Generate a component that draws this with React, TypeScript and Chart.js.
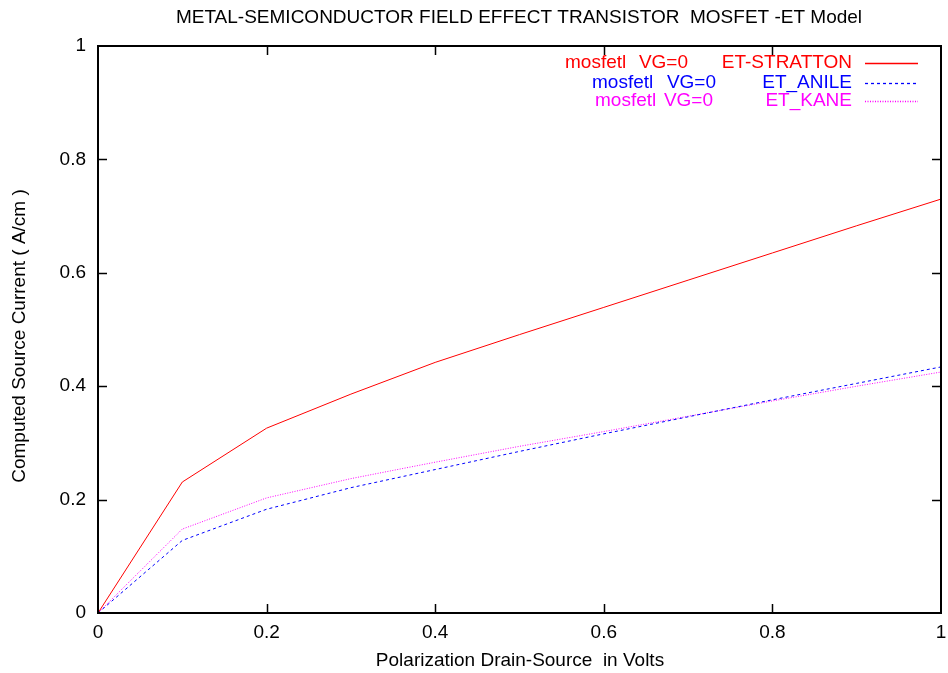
import React, { useEffect, useRef } from "react";
import { Chart, registerables } from "chart.js";

Chart.register(...registerables);

const xValues = [0, 0.1, 0.2, 0.3, 0.4, 0.5, 0.6, 0.7, 0.8, 0.9, 1.0];
const stratton = [0, 0.231, 0.326, 0.386, 0.442, 0.491, 0.539, 0.587, 0.635, 0.683, 0.730];
const anile = [0, 0.128, 0.183, 0.221, 0.253, 0.285, 0.316, 0.346, 0.376, 0.405, 0.434];
const kane = [0, 0.148, 0.203, 0.237, 0.266, 0.294, 0.320, 0.347, 0.374, 0.400, 0.425];
const tickValues = [0, 0.2, 0.4, 0.6, 0.8, 1];

const titleText = "METAL-SEMICONDUCTOR FIELD EFFECT TRANSISTOR  MOSFET -ET Model";
const xTitle = "Polarization Drain-Source  in Volts";
const yTitle = "Computed Source Current ( A/cm )";

const legendRows = [
  { left: "mosfetl", mid: "VG=0", key: "ET-STRATTON", color: "#ff0000", dash: [] as number[], lx: 565, mx: 688 },
  { left: "mosfetl", mid: "VG=0", key: "ET_ANILE", color: "#0000ff", dash: [3, 3], lx: 592, mx: 716 },
  { left: "mosfetl", mid: "VG=0", key: "ET_KANE", color: "#ff00ff", dash: [1, 1.5], lx: 595, mx: 713 },
];

const FAMILY = '"Liberation Sans", Arial, sans-serif';
const FONT = "19px " + FAMILY;

const fmt = (v: number) => String(Number(Number(v).toFixed(2)));

export default function App() {
  const ref = useRef<HTMLCanvasElement | null>(null);

  useEffect(() => {
    document.body.style.margin = "0";
    const canvas = ref.current;
    if (!canvas) return;

    const mk = (label: string, ys: number[], color: string, dash: number[]) => ({
      label,
      data: xValues.map((x, i) => ({ x, y: ys[i] })),
      borderColor: color,
      backgroundColor: color,
      borderWidth: 1,
      borderDash: dash,
      pointRadius: 0,
      tension: 0,
      fill: false,
    });

    const overlay = {
      id: "overlay",
      afterDraw(chart: any) {
        const ctx = chart.ctx;
        const a = chart.chartArea;
        const xs = chart.scales.x;
        const ys = chart.scales.y;
        ctx.save();
        ctx.strokeStyle = "#000";
        ctx.lineWidth = 2;
        ctx.setLineDash([]);
        ctx.strokeRect(a.left, a.top, a.right - a.left, a.bottom - a.top);
        ctx.lineWidth = 1.5;
        const tl = 9;
        ctx.beginPath();
        for (const v of tickValues) {
          if (v > 0 && v < 1) {
            const px = Math.round(xs.getPixelForValue(v)) + 0.5;
            ctx.moveTo(px, a.bottom);
            ctx.lineTo(px, a.bottom - tl);
            ctx.moveTo(px, a.top);
            ctx.lineTo(px, a.top + tl);
            const py = Math.round(ys.getPixelForValue(v)) + 0.5;
            ctx.moveTo(a.left, py);
            ctx.lineTo(a.left + tl, py);
            ctx.moveTo(a.right, py);
            ctx.lineTo(a.right - tl, py);
          }
        }
        ctx.stroke();

        ctx.fillStyle = "#000";
        ctx.font = FONT;
        ctx.textBaseline = "middle";
        ctx.textAlign = "center";
        ctx.fillText(titleText, 519, 18);
        ctx.fillText(xTitle, 520, 661);
        ctx.save();
        ctx.translate(20, 336);
        ctx.rotate(-Math.PI / 2);
        ctx.fillText(yTitle, 0, 0);
        ctx.restore();

        const rowY = [63, 83, 101];
        legendRows.forEach((r, i) => {
          const y = rowY[i];
          ctx.fillStyle = r.color;
          ctx.textAlign = "left";
          ctx.fillText(r.left, r.lx, y);
          ctx.textAlign = "right";
          ctx.fillText(r.mid, r.mx, y);
          ctx.fillText(r.key, 852, y);
        });
        legendRows.forEach((r, i) => {
          const y = rowY[i];
          ctx.save();
          ctx.strokeStyle = r.color;
          ctx.lineWidth = 1.3;
          ctx.setLineDash(r.dash);
          ctx.beginPath();
          ctx.moveTo(865, y + 0.5);
          ctx.lineTo(918, y + 0.5);
          ctx.stroke();
          ctx.restore();
        });
        ctx.restore();
      },
    };

    const chart = new Chart(canvas, {
      type: "line",
      data: {
        datasets: [
          mk("ET-STRATTON", stratton, "#ff0000", []),
          mk("ET_ANILE", anile, "#0000ff", [3, 3]),
          mk("ET_KANE", kane, "#ff00ff", [1, 1.5]),
        ],
      },
      options: {
        responsive: false,
        animation: false,
        layout: { padding: { top: 46, right: 7, left: 0, bottom: 0 } },
        plugins: { legend: { display: false }, tooltip: { enabled: false }, title: { display: false } },
        scales: {
          x: {
            type: "linear",
            min: 0,
            max: 1,
            grid: { display: false, drawTicks: false },
            border: { display: false },
            ticks: {
              stepSize: 0.2,
              color: "#000",
              font: { family: FAMILY, size: 19 },
              padding: 8,
              maxRotation: 0,
              callback: (v: any) => fmt(v),
            },
            afterFit: (s: any) => {
              s.height = 60;
              s.paddingLeft = 0;
              s.paddingRight = 0;
            },
          },
          y: {
            type: "linear",
            min: 0,
            max: 1,
            grid: { display: false, drawTicks: false },
            border: { display: false },
            ticks: {
              stepSize: 0.2,
              color: "#000",
              font: { family: FAMILY, size: 19 },
              padding: 12,
              callback: (v: any) => fmt(v),
            },
            afterFit: (s: any) => {
              s.width = 98;
              s.paddingTop = 0;
              s.paddingBottom = 0;
            },
          },
        },
      },
      plugins: [overlay],
    } as any);

    return () => chart.destroy();
  }, []);

  return (
    <div style={{ width: 948, height: 673, background: "#fff" }}>
      <canvas ref={ref} width={948} height={673} style={{ display: "block" }} />
    </div>
  );
}
